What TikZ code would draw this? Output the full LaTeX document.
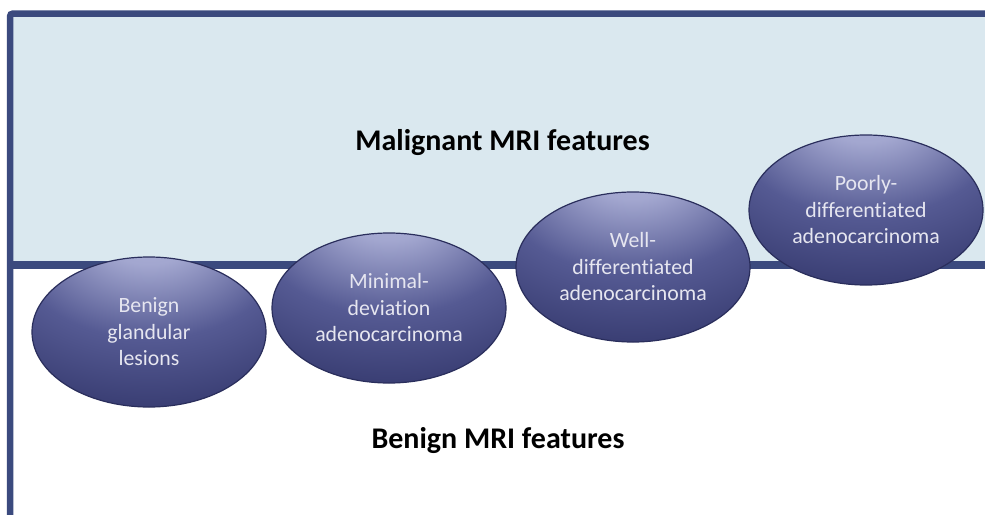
\documentclass[tikz,border=0pt]{standalone}
\usepackage{fontspec}
\setmainfont[RawFeature=-liga]{Carlito}
\usetikzlibrary{shapes.geometric}

\definecolor{frameNavy}{HTML}{3B4A7E}
\definecolor{panelBlue}{HTML}{DAE8EF}
\definecolor{orbLight}{HTML}{B0B4DA}
\definecolor{orbMid}{HTML}{555A93}
\definecolor{orbDark}{HTML}{2E3266}
\definecolor{orbEdge}{HTML}{2A2E5C}
\definecolor{orbText}{HTML}{E6E6F0}

% light spot near the top, darkening towards the rim
\pgfdeclareradialshading{orbshade}{\pgfpoint{0bp}{36bp}}{%
  color(0bp)=(orbLight); color(10bp)=(orbLight!85!orbMid);
  color(28bp)=(orbMid); color(52bp)=(orbDark); color(100bp)=(orbDark)}

\tikzset{
  orb/.style={ellipse, shading=orbshade, draw=orbEdge, line width=1.2pt,
    inner sep=0pt, minimum width=234pt, minimum height=150pt,
    align=center, text=orbText, font=\fontsize{21.8}{26.5}\selectfont},
  heading/.style={anchor=base, font=\fontsize{30}{36}\selectfont\bfseries, text=black},
  border/.style={draw=frameNavy, line width=6.5pt}
}

\begin{document}
\begin{tikzpicture}[x=1pt, y=-1pt]
  \useasboundingbox (0,0) rectangle (985,514);
  \clip (0,0) rectangle (985,514);
  \fill[white] (0,0) rectangle (985,514);

  % upper panel and frame
  \fill[panelBlue] (10,13.5) rectangle (995,265);
  \draw[border, rounded corners=3pt] (10,530) -- (10,13.5) -- (995,13.5);
  \draw[draw=frameNavy, line width=8pt] (10,265) -- (995,265);

  % headings
  \node[heading] (mal) at (502.5,150) {Malignant MRI features};
  \node[heading] (ben) at (498,448) {Benign MRI features};

  % lesion types
  \node[orb] (n1) at (149,332) {Benign\\glandular\\lesions};
  \node[orb] (n2) at (389,308) {Minimal-\\deviation\\adenocarcinoma};
  \node[orb] (n3) at (633,267) {Well-\\differentiated\\adenocarcinoma};
  \node[orb] (n4) at (866,210) {Poorly-\\differentiated\\adenocarcinoma};
\end{tikzpicture}
\end{document}
